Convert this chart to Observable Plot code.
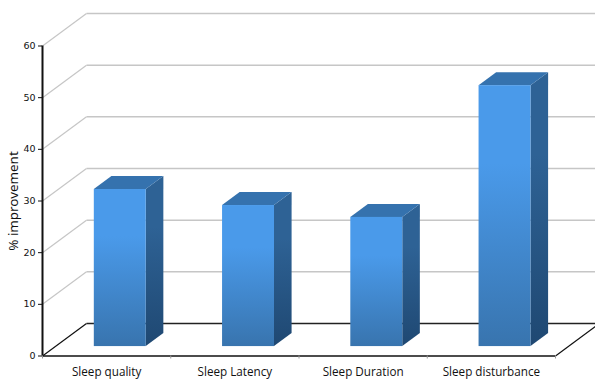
<!DOCTYPE html>
<html>
<head>
<meta charset="utf-8">
<style>html,body{margin:0;padding:0;background:#fff}svg{display:block}</style>
<script src="https://cdn.jsdelivr.net/npm/d3@7"></script>
<script src="https://cdn.jsdelivr.net/npm/@observablehq/plot@0.6"></script>
</head>
<body>
<div id="chart"></div>
<script>
const categories = ["Sleep quality", "Sleep Latency", "Sleep Duration", "Sleep disturbance"];
const improvement = [30.4, 27.3, 25, 50.5];
const gridValues = [10, 20, 30, 40, 50, 60];
const yTicks = [0, 10, 20, 30, 40, 50, 60];

// Oblique projection: one unit of depth shifts a point right and up in data units.
const skewX = 0.343, skewY = 6.29;
const px = (c, d) => c + d * skewX;
const py = (v, d) => v + d * skewY;

// Each bar sits a little in front of the centre of the floor.
const barWidth = 0.405, depthFront = 0.29, depthBack = 0.69, barCentre = 0.507;
const bars = categories.map((name, i) => ({name, c: i + barCentre, v: improvement[i]}));
const left = b => b.c - barWidth / 2;
const right = b => b.c + barWidth / 2;

const sideFaces = bars.flatMap(b => [depthFront, depthBack].map(d => ({
  name: b.name, x: px(right(b), d), y1: py(0, d), y2: py(b.v, d)
})));
const topFaces = bars.flatMap(b => [depthFront, depthBack].map(d => ({
  name: b.name, y: py(b.v, d), x1: px(left(b), d), x2: px(right(b), d)
})));

// Vertical colour ramps for the front and side of each bar.
const ramp = (id, top, bottom) => `<linearGradient id="${id}" x1="0" y1="0" x2="0" y2="1">
  <stop offset="0" stop-color="${top}"/><stop offset="0.3" stop-color="${top}"/>
  <stop offset="1" stop-color="${bottom}"/></linearGradient>`;
const gradients = () => {
  const defs = d3.create("svg:defs");
  defs.html(ramp("barFront", "#4a9aea", "#3874ae") + ramp("barSide", "#2e6295", "#1f4872"));
  return defs.node();
};

const chart = Plot.plot({
  width: 595,
  height: 381,
  marginLeft: 42,
  marginRight: 40,
  marginTop: 45.5,
  marginBottom: 25.5,
  style: {fontFamily: "'Open Sans', sans-serif", background: "#fff", overflow: "hidden"},
  x: {domain: [0, 4]},
  y: {domain: [0, 60]},
  marks: [
    gradients,
    // Side wall and back wall gridlines
    Plot.link(gridValues, {x1: 0, y1: v => v, x2: skewX, y2: v => py(v, 1), stroke: "#c6c6c6", strokeWidth: 1.2}),
    Plot.link(gridValues, {x1: skewX, y1: v => py(v, 1), x2: px(4, 1), y2: v => py(v, 1), stroke: "#c6c6c6", strokeWidth: 1.5}),
    // Floor outline
    Plot.link([0, 4], {x1: c => c, y1: 0, x2: c => px(c, 1), y2: py(0, 1), stroke: "#111", strokeWidth: 1.2}),
    Plot.link([0], {x1: skewX, y1: py(0, 1), x2: px(4, 1), y2: py(0, 1), stroke: "#222", strokeWidth: 1.5}),
    // Bars: side, top, then front face
    Plot.areaY(sideFaces, {x: "x", y1: "y1", y2: "y2", z: "name", fill: "url(#barSide)"}),
    Plot.areaX(topFaces, {y: "y", x1: "x1", x2: "x2", z: "name", fill: "#3572ae"}),
    Plot.rect(bars, {
      x1: b => px(left(b), depthFront),
      x2: b => px(right(b), depthFront),
      y1: py(0, depthFront),
      y2: b => py(b.v, depthFront),
      fill: "url(#barFront)"
    }),
    // Axes
    Plot.ruleX([0], {stroke: "#111", strokeWidth: 2}),
    Plot.ruleY([0], {stroke: "#111", strokeWidth: 1.6}),
    Plot.axisY({ticks: yTicks, tickSize: 4, tickPadding: 3, label: null, fontSize: 9.5, color: "#111",
      fontFamily: "'DejaVu Sans', sans-serif"}),
    Plot.axisX({ticks: [0, 1, 2, 3, 4], tickSize: 3, tickFormat: () => "", label: null, stroke: "#999"}),
    Plot.axisX({ticks: categories.map((_, i) => i + 0.5), tickSize: 0, tickPadding: 12, label: null, fontSize: 11.7,
      color: "#111", tickFormat: c => categories[Math.floor(c)]}),
    Plot.text(["% improvement"], {x: -0.228, y: 30, rotate: -90, fontSize: 13.4, fill: "#111", fontFamily: "'Noto Sans', sans-serif"})
  ]
});
document.getElementById("chart").append(chart);
</script>
</body>
</html>
